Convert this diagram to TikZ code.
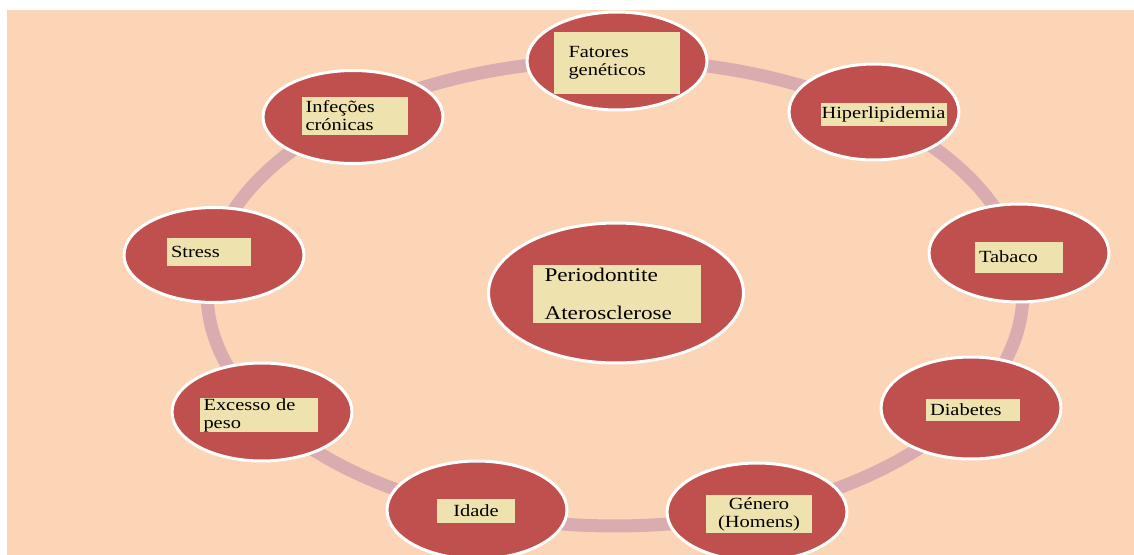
\documentclass[tikz,border=0pt]{standalone}
\usepackage{fontspec}
\setmainfont{Liberation Serif}[FakeStretch=1.2]
\usetikzlibrary{shadows,shapes.geometric}
\definecolor{bgc}{RGB}{251,213,181}
\definecolor{ellc}{RGB}{192,80,77}
\definecolor{ringc}{RGB}{217,172,176}
\definecolor{tagc}{RGB}{238,227,175}
\begin{document}
\begin{tikzpicture}[x=0.02cm, y=-0.02cm,
  factor/.style={ellipse, fill=ellc, draw=white, line width=0.06cm, minimum width=3.6cm, minimum height=1.96cm,
    drop shadow={opacity=0.25, shadow xshift=0.6pt, shadow yshift=-0.6pt}},
  tag/.style={fill=tagc, inner xsep=2pt, inner ysep=0pt, align=left, text=black, font=\fontsize{9.7}{10.2}\selectfont}]
\useasboundingbox (0,0) rectangle (1134,555);
\fill[bgc] (7,10) rectangle (1134,555);
\draw[ringc, line width=0.26cm] (615,293) ellipse[x radius=8.16cm, y radius=4.66cm];

\node[factor] (fat) at (617,61) {};
\node[factor, minimum width=3.4cm, minimum height=1.92cm] (hip) at (874,112) {};
\node[factor] (tab) at (1019,253) {};
\node[factor, minimum height=2.04cm] (dia) at (971,408) {};
\node[factor] (gen) at (757,512) {};
\node[factor] (ida) at (477,510) {};
\node[factor] (exc) at (262,412) {};
\node[factor, minimum height=1.9cm] (str) at (214,255) {};
\node[factor, minimum height=1.86cm] (inf) at (353,117) {};
\node[factor, minimum width=5.1cm, minimum height=2.8cm] (cen) at (616,293) {};

\node[tag, inner xsep=0.3cm, text width=1.94cm, minimum height=1.26cm] (fatT) at (fat) [yshift=-0.04cm] {Fatores\\genéticos\\[5pt]};
\node[tag, inner xsep=0.5pt, text width=2.5cm, minimum height=0.46cm] (hipT) at (884,114) {Hiperlipidemia};
\node[tag, text width=1.60cm, minimum height=0.62cm] (tabT) at (1019,257) {Tabaco\\[4pt]};
\node[tag, text width=1.72cm, minimum height=0.44cm] (diaT) at (973,410) {Diabetes};
\node[tag, text width=1.98cm, minimum height=0.76cm, align=center] (genT) at (759,514) {Género\\(Homens)};
\node[tag, text width=1.40cm, minimum height=0.48cm, align=center] (idaT) at (476,511) {Idade};
\node[tag, text width=2.22cm, minimum height=0.68cm] (excT) at (259,415) {Excesso de\\peso};
\node[tag, text width=1.98cm, minimum height=0.76cm] (infT) at (355,116) {Infeções\\crónicas};
\node[tag, text width=1.52cm, minimum height=0.56cm] (strT) at (209,252) {Stress\\[3pt]};
\node[tag, inner xsep=0.24cm, text width=2.90cm, minimum height=1.18cm, font=\fontsize{11}{22}\selectfont] (cenT) at (617,294) {Periodontite\\Aterosclerose};
\end{tikzpicture}
\end{document}
